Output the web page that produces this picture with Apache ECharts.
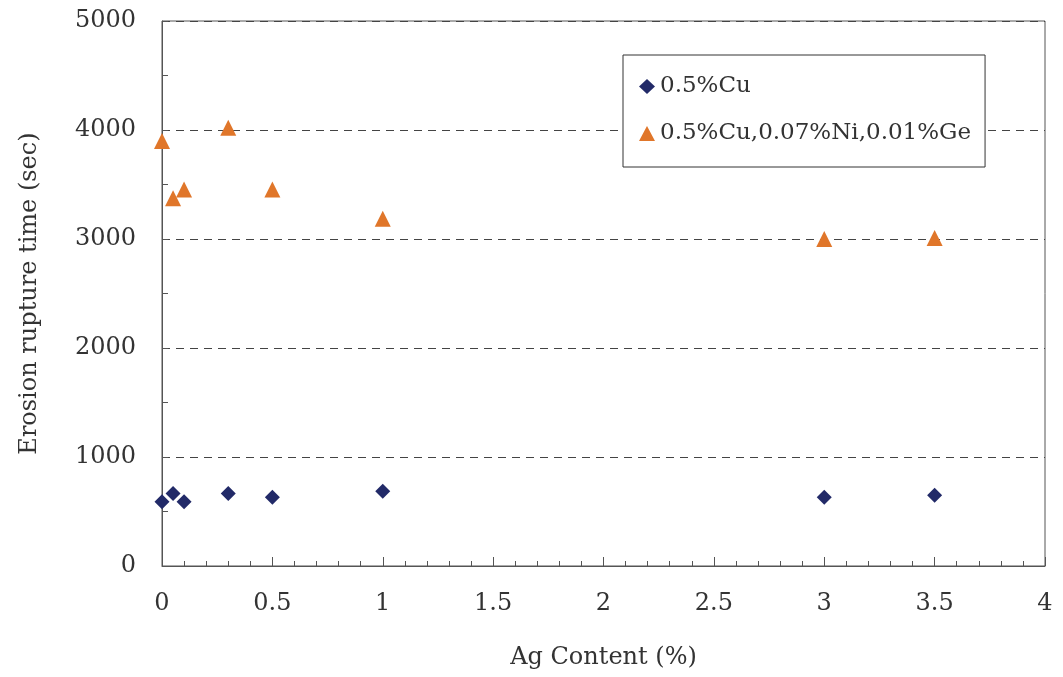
<!DOCTYPE html>
<html><head><meta charset="utf-8">
<script src="https://cdn.jsdelivr.net/npm/echarts@6/dist/echarts.min.js"></script>
<style>html,body{margin:0;padding:0;background:#fff}#c{width:1063px;height:677px}</style>
</head><body><div id="c"></div>
<script>
const seriesNames = ['0.5%Cu', '0.5%Cu,0.07%Ni,0.01%Ge'];
const agContent = [0, 0.05, 0.1, 0.3, 0.5, 1, 3, 3.5];
const cuTimes = [590, 665, 590, 665, 630, 685, 630, 650];
const cuNiGeTimes = [3900, 3375, 3455, 4020, 3455, 3185, 3000, 3010];
const xTicks = [0, 0.5, 1, 1.5, 2, 2.5, 3, 3.5, 4];
const yTicks = [0, 1000, 2000, 3000, 4000, 5000];

const font = '"DejaVu Serif", serif';
const chart = echarts.init(document.getElementById('c'));
chart.setOption({
  animation: false,
  backgroundColor: '#fff',
  grid: { left: 162, right: 18, top: 21, bottom: 111, show: true, borderColor: '#555', borderWidth: 1 },
  legend: {
    left: 623, top: 55, orient: 'vertical',
    padding: [20, 14, 22, 16],
    itemGap: 24, itemWidth: 16, itemHeight: 15,
    borderColor: '#333', borderWidth: 1, backgroundColor: '#fff',
    textStyle: { fontFamily: font, fontSize: 23, color: '#333' },
    data: seriesNames
  },
  xAxis: {
    type: 'value', min: xTicks[0], max: xTicks[xTicks.length - 1], interval: 0.5,
    name: 'Ag Content (%)', nameLocation: 'middle', nameGap: 80,
    nameTextStyle: { fontFamily: font, fontSize: 24, color: '#333' },
    axisLine: { show: true, lineStyle: { color: '#555' } },
    axisTick: { show: true, inside: true, length: 9, lineStyle: { color: '#555' } },
    minorTick: { show: true, splitNumber: 5, length: 5, lineStyle: { color: '#555' } },
    splitLine: { show: false },
    axisLabel: { fontFamily: font, fontSize: 24, color: '#333', margin: 26 }
  },
  yAxis: {
    type: 'value', min: yTicks[0], max: yTicks[yTicks.length - 1], interval: 1000,
    name: 'Erosion rupture time (sec)', nameLocation: 'middle', nameGap: 120,
    nameTextStyle: { fontFamily: font, fontSize: 24, color: '#333' },
    axisLine: { show: true, lineStyle: { color: '#555' } },
    axisTick: { show: true, inside: true, length: 6, lineStyle: { color: '#555' } },
    minorTick: { show: true, splitNumber: 2, length: 6, lineStyle: { color: '#555' } },
    splitLine: { show: true, lineStyle: { color: '#444', type: [8, 6], width: 1 } },
    axisLabel: { fontFamily: font, fontSize: 24, color: '#333', margin: 26, formatter: v => String(v) }
  },
  series: [
    {
      name: seriesNames[0], type: 'scatter', symbol: 'diamond', symbolSize: 15,
      itemStyle: { color: '#222a68', opacity: 1 },
      data: agContent.map((x, i) => [x, cuTimes[i]])
    },
    {
      name: seriesNames[1], type: 'scatter', symbol: 'triangle', symbolSize: 16,
      itemStyle: { color: '#e0762a', opacity: 1 },
      data: agContent.map((x, i) => [x, cuNiGeTimes[i]])
    }
  ]
});
</script></body></html>
